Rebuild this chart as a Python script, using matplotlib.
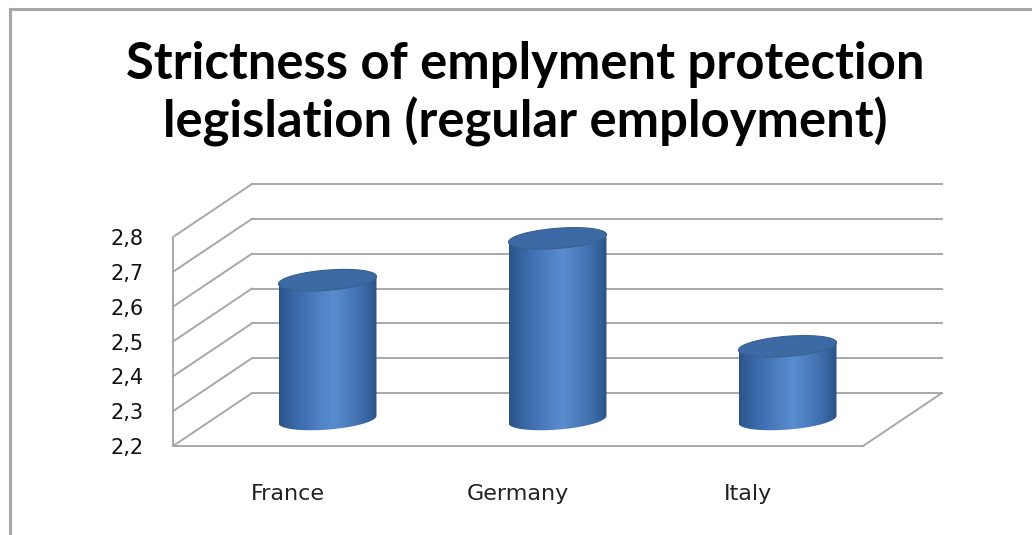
import matplotlib
matplotlib.use("Agg")
import matplotlib.pyplot as plt
import numpy as np
from matplotlib.colors import LinearSegmentedColormap
from matplotlib.lines import Line2D
from matplotlib.patches import Polygon

# --- data ---------------------------------------------------------------------
countries = ["France", "Germany", "Italy"]
epl_regular = [2.60, 2.72, 2.41]
y_ticks = [2.2, 2.3, 2.4, 2.5, 2.6, 2.7, 2.8]
y_tick_labels = ["2,2", "2,3", "2,4", "2,5", "2,6", "2,7", "2,8"]
TITLE = "Strictness of emplyment protection\nlegislation (regular employment)"

W, H, DPI = 1032, 535, 100
GRID = "#a8a8a8"
BODY = LinearSegmentedColormap.from_list(
    "cyl", [(0.0, "#2b5489"), (0.18, "#3b6aab"), (0.55, "#5a8ed0"),
            (0.85, "#3f6dab"), (1.0, "#2a5288")])
CAP, CAP_EDGE = "#3d69a5", "#33608f"


def main() -> None:
    fig = plt.figure(figsize=(W / DPI, H / DPI), dpi=DPI)
    # front plane of the fake 3-d box
    ax = fig.add_axes([173 / W, 89 / H, 690 / W, 209 / H])
    ax.set_xlim(-0.5, 2.5)
    ax.set_ylim(y_ticks[0], y_ticks[-1])
    ax.patch.set_alpha(0)

    # depth of the box in data units (79 px right, 53 px up)
    px_x = 690 / 3
    px_y = 209 / (y_ticks[-1] - y_ticks[0])
    DX, DY = 79 / px_x, 53 / px_y
    x0, x1 = ax.get_xlim()

    # --- box: back wall grid, side wall diagonals, floor ------------------------
    line_kw = dict(color=GRID, lw=1.4, clip_on=False, zorder=1)
    for v in y_ticks:
        ax.plot([x0 + DX, x1 + DX], [v + DY, v + DY], **line_kw)
        ax.plot([x0, x0 + DX], [v, v + DY], **line_kw)
    ax.plot([x1, x1 + DX], [y_ticks[0], y_ticks[0] + DY], **line_kw)

    # --- cylinders at mid depth -------------------------------------------------
    a, b, k = 0.213, 0.029, 0.05  # half width, half cap height, tilt
    base = y_ticks[0] + DY / 2
    grad = BODY(np.linspace(0, 1, 256))[None, :, :3]
    t_front = np.linspace(np.pi, 2 * np.pi, 80)
    t_full = np.linspace(0, 2 * np.pi, 160)
    for i, val in enumerate(epl_regular):
        cx = i + DX / 2
        top = val + DY / 2

        def ell(cy, t):
            return np.column_stack([cx + a * np.cos(t),
                                    cy + b * np.sin(t) + k * a * np.cos(t)])

        body_pts = np.vstack([ell(base, t_front), ell(top, t_front[::-1])])
        body = Polygon(body_pts, closed=True, transform=ax.transData)
        im = ax.imshow(grad, extent=(cx - a, cx + a, base - b - k * a - 0.01,
                                     top + b + k * a + 0.01),
                       aspect="auto", interpolation="bilinear", zorder=3)
        im.set_clip_path(body)
        im.set_clip_box(None)
        ax.add_patch(Polygon(ell(top, t_full), closed=True, facecolor=CAP,
                             edgecolor=CAP_EDGE, lw=0.8, clip_on=False, zorder=4))

    ax.set_xlim(-0.5, 2.5)
    ax.set_ylim(y_ticks[0], y_ticks[-1])

    # --- axes -------------------------------------------------------------------
    for side in ("top", "right"):
        ax.spines[side].set_visible(False)
    for side in ("left", "bottom"):
        ax.spines[side].set_color(GRID)
        ax.spines[side].set_linewidth(1.4)
    ax.set_yticks(y_ticks, y_tick_labels)
    ax.set_xticks(range(len(countries)), countries)
    ax.tick_params(axis="y", length=0, pad=21, labelsize=15, labelcolor="#111111")
    ax.tick_params(axis="x", length=0, pad=27, labelsize=16, labelcolor="#222222")

    fig.text(0.509, 0.824, TITLE, ha="center", va="center", fontsize=36.5,
             fontweight="bold", family=["Lato", "DejaVu Sans"], linespacing=1.22)

    # chart area border (only top and left edges visible in the crop)
    border = dict(color="#a6a6a6", lw=2.2, transform=fig.transFigure)
    fig.add_artist(Line2D([10 / W, 1], [1 - 9 / H, 1 - 9 / H], **border))
    fig.add_artist(Line2D([10 / W, 10 / W], [0, 1 - 9 / H], **border))

    fig.savefig("out.png", dpi=DPI)


if __name__ == "__main__":
    main()
